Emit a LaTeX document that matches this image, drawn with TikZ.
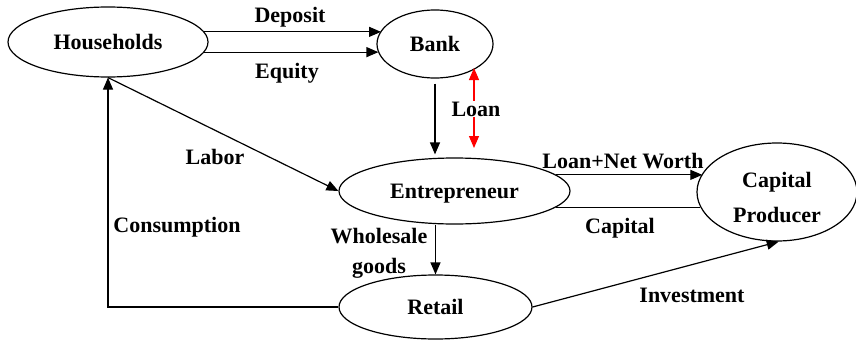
\documentclass[tikz,border=0pt]{standalone}
\usepackage{fontspec}
\setmainfont{Liberation Serif}
\usetikzlibrary{shapes.geometric,arrows.meta,calc}
\begin{document}
\begin{tikzpicture}[x=1pt,y=-1pt,
  every node/.style={font=\fontsize{22}{26}\selectfont\bfseries},
  box/.style={draw,ellipse,line width=1.2pt,inner sep=0pt,text height=15pt,text depth=0pt},
  arr/.style={line width=1.2pt,-{Triangle[length=12pt,width=10pt]}},
  darr/.style={line width=1.2pt,{Triangle[length=12pt,width=10pt]}-{Triangle[length=12pt,width=10pt]}},
  lbl/.style={inner sep=1pt}]
\useasboundingbox (0,0) rectangle (856,340);
% nodes
\node[box,minimum width=200pt,minimum height=70pt] (hh) at (108,42) {Households};
\node[box,minimum width=116pt,minimum height=68pt] (bank) at (435,44) {Bank};
\node[box,minimum width=231pt,minimum height=66pt] (ent) at (454.5,191) {Entrepreneur};
\node[box,minimum width=160pt,minimum height=98pt,align=center,text height=60pt,font=\fontsize{22}{35}\selectfont\bfseries] (cp) at (777,192) {Capital\\Producer};
\node[box,minimum width=193pt,minimum height=64pt] (retail) at (435.5,307) {Retail};
% connectors
\draw[arr] (hh.6.6) -- (bank.166.4 |- hh.6.6);
\draw[arr] (hh.-6) -- (bank.-171.9 |- hh.-6);
\draw[arr] ([yshift=-5pt]bank.south) -- ($(bank.south |- ent.north)+(0,-3)$);
\coordinate (rtop) at (474,68);
\coordinate (rbot) at (474,148);
\draw[darr,red] (rtop) -- (rbot);
\draw[arr] (hh.south) -- (ent.west);
\draw[arr] (retail.west) -| (hh.south);
\draw[arr] (ent.south -| retail.north) -- (retail.north);
\draw[arr] (ent.9.74) -- (cp.166.4 |- ent.9.74);
\draw[line width=1.2pt] (ent.-9.74) -- (cp.191.95 |- ent.-9.74);
\draw[arr] (retail.east) -- (cp.-88);
% labels
\node[lbl] (ldep) at (290,17) {Deposit};
\node[lbl] (lequ) at (287,73) {Equity};
\node[lbl,fill=white] (lloan) at (476,109) {Loan};
\node[lbl] (llab) at (215,157) {Labor};
\node[lbl] (lcon) at (177,227) {Consumption};
\node[lbl] (lwh) at (379,236) {Wholesale};
\node[lbl] (lgo) at (379,268) {goods};
\node[lbl] (llnw) at (623,161) {Loan+Net Worth};
\node[lbl] (lcap) at (620,228) {Capital};
\node[lbl] (linv) at (692,295) {Investment};
\end{tikzpicture}
\end{document}
